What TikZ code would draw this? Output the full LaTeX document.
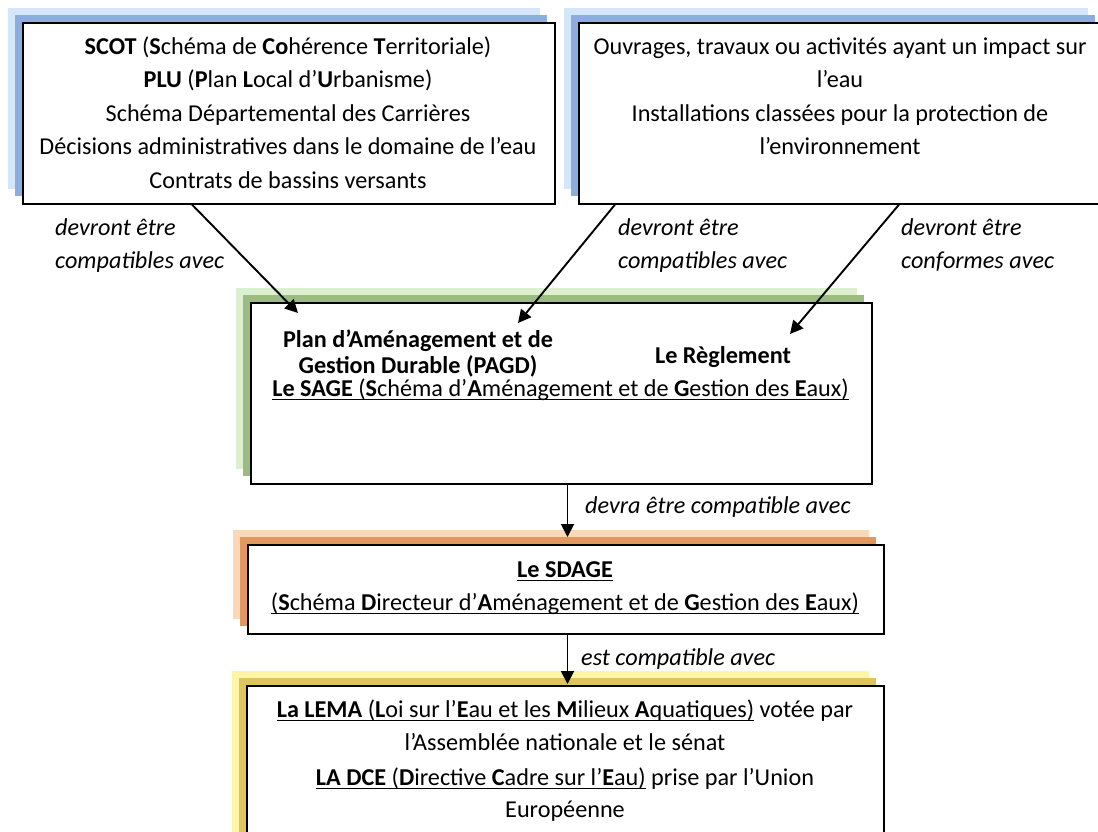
\documentclass[tikz,border=0pt]{standalone}
\usepackage{fontspec}
\setmainfont{Carlito}
\usetikzlibrary{arrows.meta,shadows}
\definecolor{blueL}{HTML}{D4E6F9}
\definecolor{blueD}{HTML}{8DADDE}
\definecolor{greenL}{HTML}{DCEFCF}
\definecolor{greenD}{HTML}{9CBB83}
\definecolor{orangeL}{HTML}{FCD8B6}
\definecolor{orangeD}{HTML}{E09860}
\definecolor{yellowL}{HTML}{FFF5A6}
\definecolor{yellowD}{HTML}{DEC55B}
\newcommand\myul[1]{\setbox0=\hbox{#1}\rlap{\rule[-3.8pt]{\wd0}{1.3pt}}\box0\relax}
\tikzset{
  framebox/.style 2 args={rectangle, draw=black, line width=1.6pt, fill=white,
    inner sep=0pt, anchor=north west,
    general shadow={shadow xshift=-15pt, shadow yshift=15pt, fill=#1, draw=none},
    general shadow={shadow xshift=-7.5pt, shadow yshift=7.5pt, fill=#2, draw=none}},
  txt/.style={font=\fontsize{24.2}{30}\selectfont, inner sep=0pt, anchor=base},
  lbl/.style={font=\fontsize{24.2}{30}\selectfont\itshape, inner sep=0pt, anchor=base west},
  arr/.style={line width=1.9pt, -{Triangle[length=13pt,width=13pt]}}
}
\begin{document}
\begin{tikzpicture}[x=1pt,y=-1pt]
\useasboundingbox (0,0) rectangle (1098,832);
\clip (0,0) rectangle (1098,832);
% boxes
\node[framebox={blueL}{blueD}, minimum width=532pt, minimum height=181pt] (scot) at (22,22) {};
\node[framebox={blueL}{blueD}, minimum width=524pt, minimum height=181pt] (ouv) at (578,22) {};
\node[framebox={greenL}{greenD}, minimum width=621pt, minimum height=181pt] (sage) at (250,302) {};
\node[framebox={orangeL}{orangeD}, minimum width=636pt, minimum height=89pt] (sdage) at (247,544) {};
\node[framebox={yellowL}{yellowD}, minimum width=637pt, minimum height=170pt] (lema) at (246,685) {};
% texts of the top left box
\node[txt] (t1) at (288,55) {\textbf{SCOT} (\textbf{S}chéma de \textbf{Co}hérence \textbf{T}erritoriale)};
\node[txt] (t2) at (288,88) {\textbf{PLU} (\textbf{P}lan \textbf{L}ocal d’\textbf{U}rbanisme)};
\node[txt] (t3) at (288,121.5) {Schéma Départemental des Carrières};
\node[txt] (t4) at (288,155) {Décisions administratives dans le domaine de l’eau};
\node[txt] (t5) at (288,188) {Contrats de bassins versants};
% texts of the top right box
\node[txt] (o1) at (840,55) {Ouvrages, travaux ou activités ayant un impact sur};
\node[txt] (o2) at (840,88) {l’eau};
\node[txt] (o3) at (840,121.5) {Installations classées pour la protection de};
\node[txt] (o4) at (840,155) {l’environnement};
% SAGE box
\node[txt] (s1) at (418,347) {\textbf{Plan d’Aménagement et de}};
\node[txt] (s2) at (418,373) {\textbf{Gestion Durable (PAGD)}};
\node[txt] (s3) at (723,363) {\textbf{Le Règlement}};
\node[txt] (s4) at (560.5,396) {\myul{\textbf{Le SAGE} (\textbf{S}chéma d’\textbf{A}ménagement et de \textbf{G}estion des \textbf{E}aux)}};
% SDAGE box
\node[txt] (d1) at (565,577) {\myul{\textbf{Le SDAGE}}};
\node[txt] (d2) at (565,610) {\myul{(\textbf{S}chéma \textbf{D}irecteur d’\textbf{A}ménagement et de \textbf{G}estion des \textbf{E}aux)}};
% LEMA box
\node[txt] (l1) at (565,717) {\myul{\textbf{La LEMA} (\textbf{L}oi sur l’\textbf{E}au et les \textbf{M}ilieux \textbf{A}quatiques)} votée par};
\node[txt] (l2) at (565,750) {l’Assemblée nationale et le sénat};
\node[txt] (l3) at (565,785) {\myul{\textbf{LA DCE} (\textbf{D}irective \textbf{C}adre sur l’\textbf{E}au)} prise par l’Union};
\node[txt] (l4) at (565,817) {Européenne};
% labels
\node[lbl] (la1) at (55,235) {devront être};
\node[lbl] (la2) at (55,268) {compatibles avec};
\node[lbl] (lb1) at (618,235) {devront être};
\node[lbl] (lb2) at (618,268) {compatibles avec};
\node[lbl] (lc1) at (901,235) {devront être};
\node[lbl] (lc2) at (901,268) {conformes avec};
\node[lbl] (ld) at (585,513) {devra être compatible avec};
\node[lbl] (le) at (581,665) {est compatible avec};
% arrow coordinates
\coordinate (a1s) at (192,0);
\coordinate (a1e) at (298,313);
\coordinate (a2s) at (615,0);
\coordinate (a2e) at (518,323);
\coordinate (a3s) at (899,0);
\coordinate (a3e) at (790,334);
\coordinate (a4s) at (567.5,0);
% arrows
\draw[arr] (scot.south -| a1s) -- (a1e);
\draw[arr] (ouv.south -| a2s) -- (a2e);
\draw[arr] (ouv.south -| a3s) -- (a3e);
\draw[arr, shorten >=7pt] (sage.south -| a4s) -- (sdage.north -| a4s);
\draw[arr, shorten >=1pt] (sdage.south -| a4s) -- (lema.north -| a4s);
\end{tikzpicture}
\end{document}
